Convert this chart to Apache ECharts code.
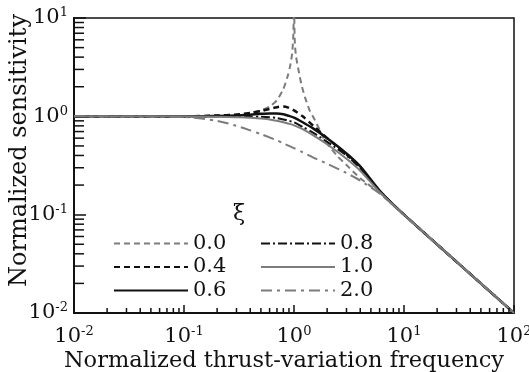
<!DOCTYPE html>
<html>
<head>
<meta charset="utf-8">
<script src="https://cdn.jsdelivr.net/npm/echarts@6/dist/echarts.min.js"></script>
<style>
  html, body { margin: 0; padding: 0; background: #fff; }
  #chart { width: 529px; height: 372px; }
</style>
</head>
<body>
<div id="chart"></div>
<script>
// frequencies shared by the damped curves (high end is a straight line in log-log)
const freqs = [0.01, 0.1, 0.2, 0.3, 0.4, 0.5, 0.6, 0.7, 0.8, 0.9, 1.0, 1.2, 1.5, 2, 3, 4, 6, 10, 100];
const xi04 = [1, 1.0, 1.02, 1.04, 1.08, 1.13, 1.19, 1.24, 1.26, 1.22, 1.15, 1.0, 0.8, 0.6, 0.41, 0.3, 0.172, 0.1, 0.01];
const xi06 = [1, 1.0, 1.01, 1.02, 1.04, 1.06, 1.07, 1.07, 1.05, 1.01, 0.97, 0.87, 0.75, 0.6, 0.42, 0.31, 0.176, 0.1, 0.01];
const xi08 = [1, 1.0, 1.0, 1.0, 0.99, 0.99, 0.98, 0.96, 0.93, 0.9, 0.87, 0.78, 0.68, 0.55, 0.4, 0.3, 0.174, 0.1, 0.01];
const xi10 = [1, 1.0, 0.99, 0.98, 0.97, 0.95, 0.93, 0.9, 0.87, 0.84, 0.81, 0.74, 0.64, 0.52, 0.37, 0.28, 0.17, 0.1, 0.01];
const xi20 = [1, 0.985, 0.9, 0.8, 0.72, 0.66, 0.61, 0.57, 0.53, 0.5, 0.475, 0.43, 0.38, 0.33, 0.265, 0.222, 0.164, 0.099, 0.01];

// undamped curve has its own, denser sampling round the resonance
const freqs0 = [0.01, 0.1, 0.2, 0.3, 0.4, 0.5, 0.6, 0.7, 0.8, 0.87, 0.92, 0.96, 0.985, 1.0, 1.015, 1.04, 1.09, 1.17, 1.26, 1.4, 1.5, 1.72, 1.9, 2.5, 3, 4, 6, 10, 100];
const xi00 = [1, 1.0, 1.02, 1.05, 1.09, 1.15, 1.26, 1.46, 1.9, 2.5, 3.2, 4.3, 6.5, 14, 6, 4.2, 3.1, 2.1, 1.56, 1.12, 0.98, 0.72, 0.57, 0.39, 0.32, 0.235, 0.166, 0.1, 0.01];

const legendLeft = ['0.0', '0.4', '0.6'];
const legendRight = ['0.8', '1.0', '2.0'];

const xMinor = [];
const yMinor = [];
[0.01, 0.1, 1, 10].forEach((d) => { for (let k = 2; k <= 9; k++) xMinor.push(k * d); });
[0.01, 0.1, 1].forEach((d) => { for (let k = 2; k <= 9; k++) yMinor.push(k * d); });

const FONT = 'DejaVu Serif';
const GRAY = '#7c7c7c';
const BLACK = '#111';

const pair = (xs, ys) => xs.map((x, i) => [x, ys[i]]);

function powLabel(v) {
  const e = Math.round(Math.log10(v));
  return '{b|10}{s|' + e + '}';
}
const labelRich = {
  b: { fontFamily: FONT, fontSize: 21, color: '#111' },
  s: { fontFamily: FONT, fontSize: 13, color: '#111', verticalAlign: 'bottom', padding: [0, 0, 10, 0] },
};

function curve(name, data, color, width, type) {
  return {
    name, type: 'line', data, showSymbol: false, symbol: 'none',
    smooth: 0.25,
    lineStyle: { color, width, type },
    itemStyle: { color },
    z: 3,
  };
}

const legendBase = {
  orient: 'vertical', top: 228,
  itemWidth: 74, itemHeight: 12, itemGap: 2.5,
  itemStyle: { opacity: 0 },
  textStyle: { fontFamily: FONT, fontSize: 21, lineHeight: 20, color: '#111' },
};

const chart = echarts.init(document.getElementById('chart'));
chart.setOption({
  animation: false,
  grid: {
    left: 74, right: 15, top: 18, bottom: 59, outerBoundsMode: 'none',
    show: true, borderColor: '#111', borderWidth: 1.5,
  },
  title: { text: 'ξ', left: 228, top: 198, textStyle: { fontFamily: FONT, fontSize: 22, fontWeight: 'normal', color: '#111' } },
  legend: [
    Object.assign({ data: legendLeft, left: 108 }, legendBase),
    Object.assign({ data: legendRight, left: 255 }, legendBase),
  ],
  xAxis: {
    type: 'log', logBase: 10, min: 0.01, max: 100,
    name: 'Normalized thrust-variation frequency',
    nameLocation: 'middle', nameGap: 37, nameMoveOverlap: false,
    nameTextStyle: { fontFamily: FONT, fontSize: 22.5, color: '#111', padding: [0, 20, 0, 0] },
    axisLine: { lineStyle: { color: '#111', width: 2 } },
    axisTick: { inside: true, length: 8, lineStyle: { color: '#111', width: 1.5 } },
    axisLabel: { formatter: powLabel, rich: labelRich, margin: 12 },
    splitLine: { show: false },
  },
  yAxis: {
    type: 'log', logBase: 10, min: 0.01, max: 10,
    name: 'Normalized sensitivity',
    nameLocation: 'middle', nameGap: 42, nameMoveOverlap: false,
    nameTextStyle: { fontFamily: FONT, fontSize: 24, color: '#111', padding: [0, 0, 0, 30] },
    axisLine: { lineStyle: { color: '#111', width: 2 } },
    axisTick: { inside: true, length: 12, lineStyle: { color: '#111', width: 1.5 } },
    axisLabel: { formatter: powLabel, rich: labelRich, margin: 6 },
    splitLine: { show: false },
  },
  series: [
    curve('0.0', pair(freqs0, xi00), GRAY, 2, [6, 4]),
    curve('0.4', pair(freqs, xi04), BLACK, 2.5, [6, 4]),
    curve('0.6', pair(freqs, xi06), BLACK, 2.5, 'solid'),
    curve('0.8', pair(freqs, xi08), BLACK, 2, [9, 3, 2, 3]),
    curve('1.0', pair(freqs, xi10), GRAY, 2, 'solid'),
    curve('2.0', pair(freqs, xi20), GRAY, 2, [11, 5, 3, 5]),
    {
      type: 'custom', silent: true, z: 4,
      data: xMinor.map((v) => [v, 0.01]),
      renderItem: (params, api) => {
        const p = api.coord([api.value(0), api.value(1)]);
        return { type: 'line', shape: { x1: p[0], y1: p[1], x2: p[0], y2: p[1] - 5 }, style: { stroke: '#111', lineWidth: 1.5 } };
      },
    },
    {
      type: 'custom', silent: true, z: 4,
      data: yMinor.map((v) => [0.01, v]),
      renderItem: (params, api) => {
        const p = api.coord([api.value(0), api.value(1)]);
        return { type: 'line', shape: { x1: p[0], y1: p[1], x2: p[0] + 10, y2: p[1] }, style: { stroke: '#111', lineWidth: 1.5 } };
      },
    },
  ],
});
</script>
</body>
</html>
